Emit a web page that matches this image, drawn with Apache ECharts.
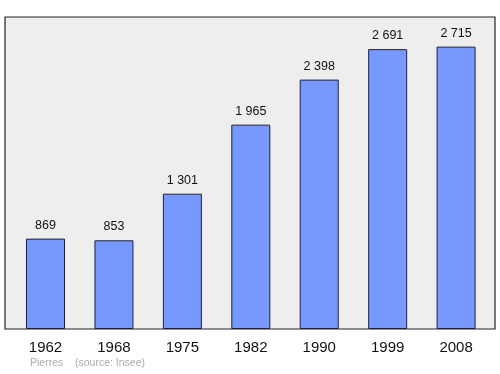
<!DOCTYPE html>
<html><head><meta charset="utf-8">
<script src="https://cdn.jsdelivr.net/npm/echarts@6/dist/echarts.min.js"></script>
<style>html,body{margin:0;padding:0;background:#fff}#c{width:500px;height:374px}</style>
</head><body><div id="c"></div>
<script>
var years = ['1962','1968','1975','1982','1990','1999','2008'];
var population = [869, 853, 1301, 1965, 2398, 2691, 2715];
var commune = 'Pierres';
var source = '(source: Insee)';
var yMax = 3000;

function fmt(v){ return String(v).replace(/\B(?=(\d{3})+(?!\d))/g, ' '); }

var chart = echarts.init(document.getElementById('c'), null, {renderer:'canvas'});
chart.setOption({
  animation: false,
  grid: [
    {left: 5, top: 17, width: 490, height: 312, show: true, backgroundColor: '#eeeeee', borderColor: '#222', borderWidth: 1.2, z: 0},
    {left: 11.3, top: 17, width: 479, height: 312, show: false}
  ],
  xAxis: [
    {gridIndex: 0, type: 'value', show: false, min: 0, max: 1},
    {gridIndex: 1, type: 'category', data: years, boundaryGap: true,
     axisLine: {show: false}, axisTick: {show: false},
     axisLabel: {color: '#111', fontSize: 15, fontFamily: 'Liberation Sans, Arial, sans-serif', margin: 11}}
  ],
  yAxis: [
    {gridIndex: 0, type: 'value', show: false, min: 0, max: 1},
    {gridIndex: 1, type: 'value', min: 0, max: yMax, show: false}
  ],
  series: [{
    type: 'bar', xAxisIndex: 1, yAxisIndex: 1, data: population, barWidth: 39, z: 3,
    itemStyle: {color: '#7799ff', borderColor: '#1e2040', borderWidth: 1},
    label: {show: true, position: 'top', distance: 7, color: '#111', fontSize: 12.5,
      fontFamily: 'Liberation Sans, Arial, sans-serif',
      formatter: function(p){ return fmt(p.value); }}
  }],
  graphic: [
    {type: 'text', left: 30, top: 358, style: {text: commune, fill: '#aaaaaa', font: '10.5px "Liberation Sans", Arial, sans-serif'}},
    {type: 'text', left: 75, top: 358, style: {text: source, fill: '#aaaaaa', font: '10.5px "Liberation Sans", Arial, sans-serif'}}
  ]
});
</script></body></html>
